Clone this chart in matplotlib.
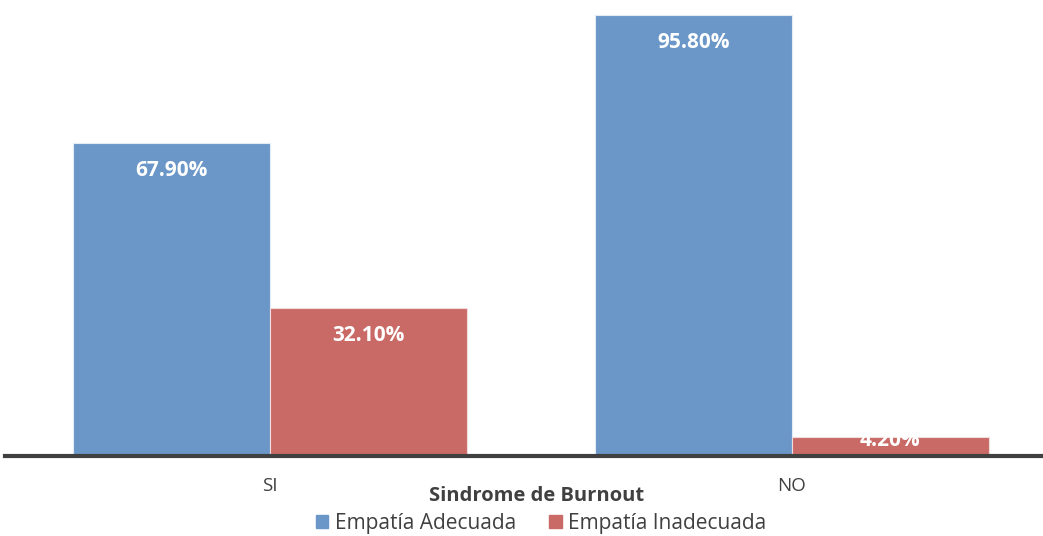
import matplotlib
matplotlib.use("Agg")
import matplotlib.pyplot as plt
import matplotlib.patches as mpatches
import numpy as np

plt.rcParams["font.family"] = ["Open Sans", "DejaVu Sans"]

# ── Data ──────────────────────────────────────────────────────────────────────
categories = ["SI", "NO"]
series_names = ["Empatía Adecuada", "Empatía Inadecuada"]
adecuada = [67.9, 95.8]
inadecuada = [32.1, 4.2]

BLUE = "#6A96C8"
RED = "#C96A66"
AXIS = "#404040"
TXT = "#404040"

fig = plt.figure(figsize=(10.43, 5.36), dpi=100)
ax = fig.add_axes([5 / 1043, (536 - 456) / 536, 1 - 5 / 1043, 456 / 536])

x = np.arange(len(categories))
w = 0.377
b1 = ax.bar(x - w / 2, adecuada, w, color=BLUE, edgecolor="#e3ebf5", linewidth=0.8, zorder=3)
b2 = ax.bar(x + w / 2, inadecuada, w, color=RED, edgecolor="#f0dcdb", linewidth=0.8, zorder=3)

# labels inside the bar end, white bold
for bars, vals in ((b1, adecuada), (b2, inadecuada)):
    for r, v in zip(bars, vals):
        y = max(v - 5.9, 3.3)
        ax.text(r.get_x() + r.get_width() / 2, y, f"{v:.2f}%", ha="center", va="center",
                color="white", fontsize=15, fontweight="bold", zorder=4)

ax.set_xlim(-0.508, 1.481)
ax.set_ylim(0, 99.06)
for s in ("top", "right", "left"):
    ax.spines[s].set_visible(False)
ax.spines["bottom"].set_color(AXIS)
ax.spines["bottom"].set_linewidth(3)
ax.spines["bottom"].set_zorder(5)
ax.set_yticks([])
ax.set_xticks(x)
ax.set_xticklabels(categories, fontsize=13.5, color=TXT)
ax.tick_params(axis="x", length=0, pad=15)

fig.text(537 / 1043, 1 - 496 / 536, "Sindrome de Burnout", ha="center", va="center",
         fontsize=14.5, fontweight="bold", color=TXT)

handles = [mpatches.Patch(color=BLUE, label=series_names[0]),
           mpatches.Patch(color=RED, label=series_names[1])]
fig.legend(handles=handles, loc="center", bbox_to_anchor=(541 / 1043, 1 - 523 / 536),
           ncol=2, frameon=False, fontsize=15, handlelength=0.6, handleheight=0.6,
           handletextpad=0.3, columnspacing=1.6, labelcolor=TXT)

fig.savefig("out.png", dpi=100)
